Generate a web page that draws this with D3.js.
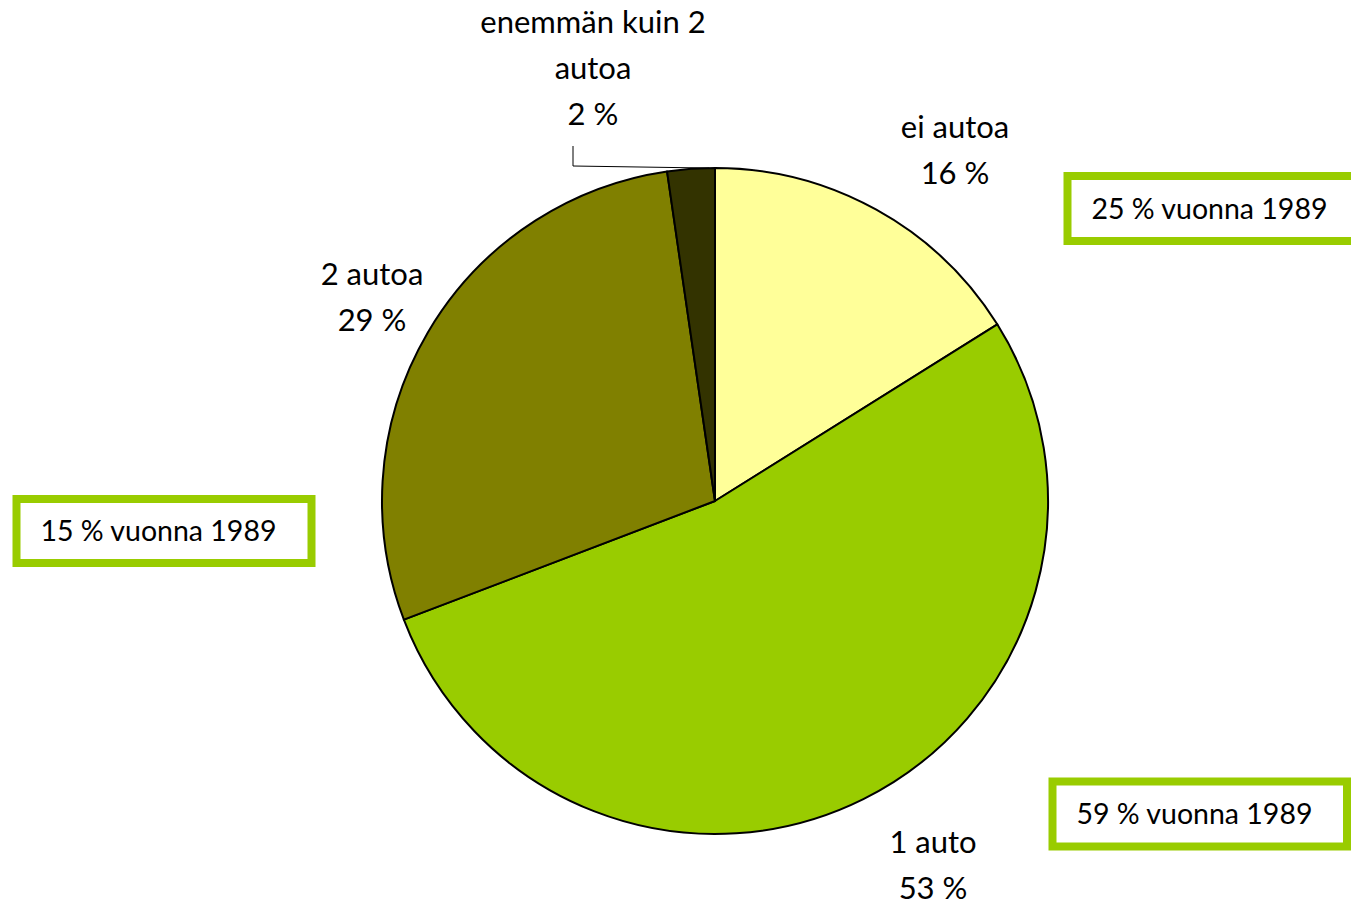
<!DOCTYPE html>
<html>
<head>
<meta charset="utf-8">
<script src="https://cdn.jsdelivr.net/npm/d3@7/dist/d3.min.js"></script>
<style>
  body { margin: 0; background: #fff; }
  svg { display: block; font-family: Lato, "Open Sans", sans-serif; }
</style>
</head>
<body>
<svg id="chart" width="1351" height="905"></svg>
<script>
// data (shares; labels show them rounded)
var categories = ["ei autoa", "1 auto", "2 autoa", "enemmän kuin 2 autoa"];
var shares = [16.1, 53.1, 28.5, 2.3];
var colors = ["#FFFF99", "#99CC00", "#808000", "#333300"];
// comparison boxes (1989)
var notes = ["25 % vuonna 1989", "15 % vuonna 1989", "59 % vuonna 1989"];

// layout
var width = 1351, height = 905;
var cx = 715, cy = 501, radius = 333;
var fontSize = 31, lineH = 46;
// label name lines, label centre (x) and first baseline (y) for each slice
var nameLines = [["ei autoa"], ["1 auto"], ["2 autoa"], ["enemmän kuin 2", "autoa"]];
var labelAt = [[955, 138], [933, 853], [372, 285], [593, 33]];
var boxAt = [[1067.5, 176, 300, 65], [16.5, 499, 295, 64], [1052.5, 781.5, 294.5, 65]];

var svg = d3.select("#chart");

var pie = d3.pie().sort(null).value(function(d){ return d; });
var arc = d3.arc().innerRadius(0).outerRadius(radius);
var arcs = pie(shares);

var g = svg.append("g").attr("transform", "translate(" + cx + "," + cy + ")");
g.selectAll("path")
  .data(arcs)
  .enter().append("path")
  .attr("d", arc)
  .attr("fill", function(d, i){ return colors[i]; })
  .attr("stroke", "#000")
  .attr("stroke-width", 2)
  .attr("stroke-linejoin", "round");

// leader line for the smallest slice (touches near its right edge)
var small = arcs[3];
var a = small.endAngle - 0.12 * (small.endAngle - small.startAngle);
var edge = [cx + Math.sin(a) * radius, cy - Math.cos(a) * radius];
svg.append("path")
  .attr("d", d3.line()([[573, 146], [573, 166], edge]))
  .attr("fill", "none")
  .attr("stroke", "#000")
  .attr("stroke-width", 1);

// slice labels
nameLines.forEach(function(lines, i){
  var all = lines.concat([Math.round(shares[i]) + " %"]);
  var t = svg.append("text")
    .attr("text-anchor", "middle")
    .attr("font-size", fontSize)
    .attr("fill", "#000");
  all.forEach(function(s, j){
    t.append("tspan")
      .attr("x", labelAt[i][0])
      .attr("y", labelAt[i][1] + j * lineH)
      .text(s);
  });
});

// 1989 boxes
notes.forEach(function(s, i){
  var b = boxAt[i];
  svg.append("rect")
    .attr("x", b[0]).attr("y", b[1])
    .attr("width", b[2]).attr("height", b[3])
    .attr("fill", "#fff")
    .attr("stroke", "#99CC00")
    .attr("stroke-width", 8);
  svg.append("text")
    .attr("x", b[0] + 24)
    .attr("y", b[1] + b[3] / 2 + 10)
    .attr("font-size", 28.5)
    .attr("fill", "#000")
    .text(s);
});
</script>
</body>
</html>
